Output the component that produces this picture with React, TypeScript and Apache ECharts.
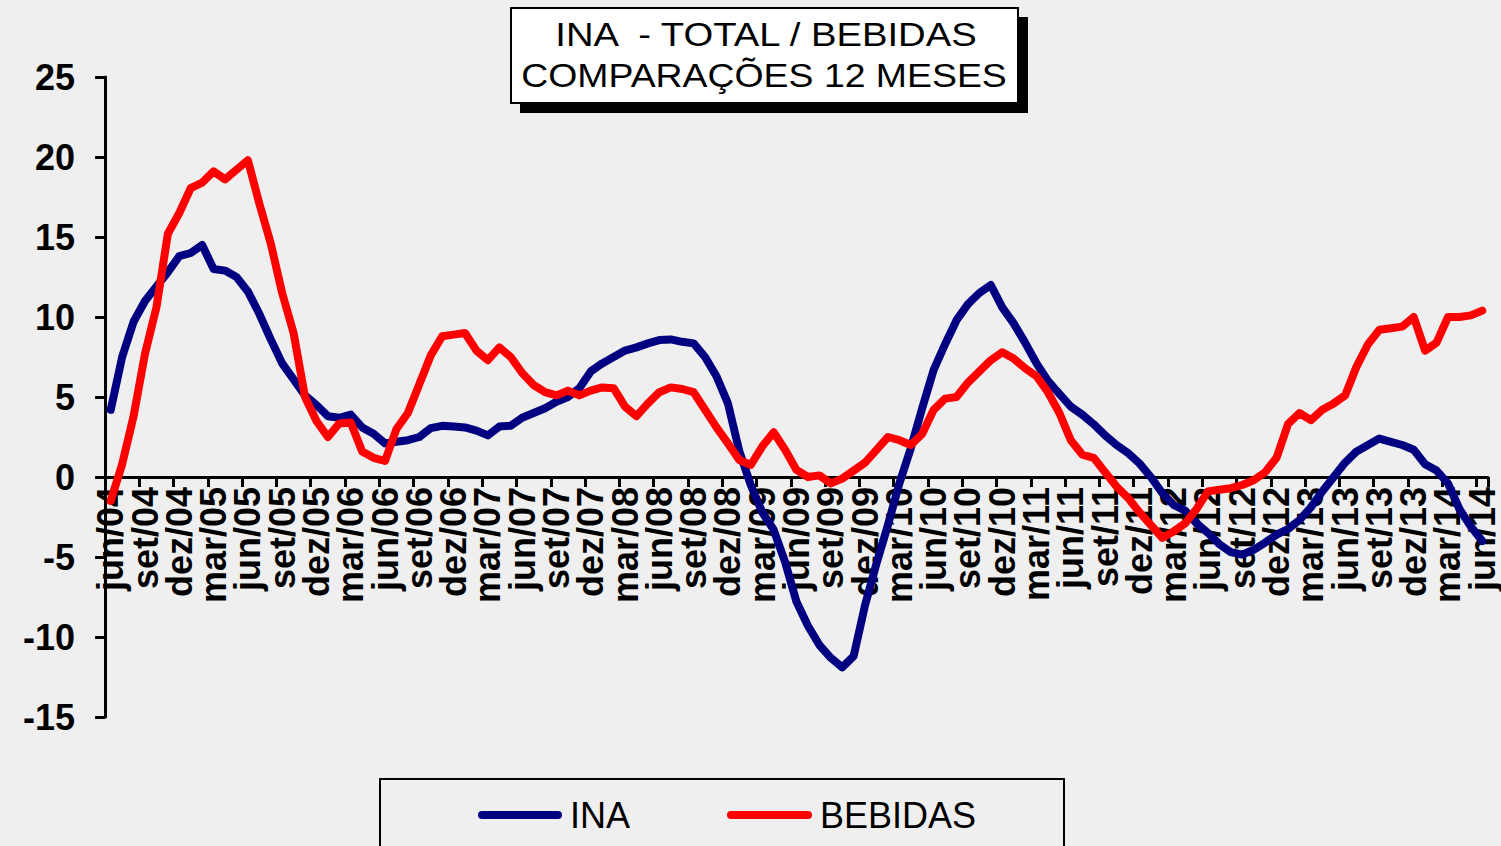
import React, { useEffect, useRef } from 'react';
import * as echarts from 'echarts';

const FONT = "'Liberation Sans', Arial, sans-serif";

const MONTHS = ['jan', 'fev', 'mar', 'abr', 'mai', 'jun', 'jul', 'ago', 'set', 'out', 'nov', 'dez'];
const START_YEAR = 2004;
const START_MONTH = 5; // jun
const MONTH_COUNT = 121; // jun/04 .. jun/14
const LABEL_EVERY = 3;

const CATEGORIES: string[] = [];
for (let k = 0; k < MONTH_COUNT; k++) {
  const m = (START_MONTH + k) % 12;
  const y = START_YEAR + Math.floor((START_MONTH + k) / 12);
  CATEGORIES.push(`${MONTHS[m]}/${String(y % 100).padStart(2, '0')}`);
}

const INA = [
  4.2, 7.5, 9.7, 11.0, 11.9, 12.8, 13.8, 14.0, 14.5, 13.0,
  12.9, 12.5, 11.6, 10.2, 8.6, 7.1, 6.1, 5.1, 4.5, 3.8,
  3.7, 3.9, 3.1, 2.7, 2.1, 2.2, 2.3, 2.5, 3.05, 3.2,
  3.15, 3.1, 2.9, 2.6, 3.15, 3.2, 3.7, 4.0, 4.3, 4.7,
  5.0, 5.55, 6.6, 7.1, 7.5, 7.9, 8.1, 8.35, 8.56, 8.6,
  8.45, 8.35, 7.5, 6.3, 4.6, 1.6, -0.5, -2.2, -3.3, -5.3,
  -7.8, -9.3, -10.5, -11.3, -11.9, -11.2, -8.0, -5.4, -3.0, -0.4,
  1.8, 4.3, 6.7, 8.3, 9.8, 10.8, 11.5, 12.0, 10.6, 9.6,
  8.4, 7.1, 6.0, 5.2, 4.4, 3.9, 3.3, 2.6, 2.0, 1.5,
  0.85, 0.0, -1.0, -1.75, -2.1, -2.9, -3.5, -4.2, -4.7, -4.85,
  -4.55, -4.1, -3.6, -3.25, -2.7, -1.9, -0.9, 0.0, 0.9, 1.6,
  2.0, 2.4, 2.2, 2.0, 1.7, 0.8, 0.4, -0.4, -2.0, -3.1,
  -4.0,
];

const BEBIDAS = [
  -1.5, 0.8, 3.8, 7.7, 10.6, 15.2, 16.5, 18.05, 18.4, 19.1,
  18.6, 19.2, 19.8, 17.1, 14.6, 11.5, 9.0, 5.0, 3.5, 2.5,
  3.35, 3.4, 1.6, 1.2, 1.0, 3.0, 4.0, 5.8, 7.6, 8.8,
  8.9, 9.0, 7.9, 7.3, 8.1, 7.5, 6.5, 5.75, 5.3, 5.1,
  5.4, 5.1, 5.4, 5.6, 5.55, 4.4, 3.8, 4.6, 5.3, 5.6,
  5.5, 5.3, 4.2, 3.1, 2.1, 1.06, 0.75, 1.9, 2.8, 1.7,
  0.44, 0.0, 0.1, -0.4, -0.1, 0.4, 0.9, 1.7, 2.5, 2.3,
  2.0, 2.7, 4.2, 4.9, 5.0, 5.9, 6.6, 7.3, 7.8, 7.4,
  6.8, 6.3, 5.3, 4.0, 2.3, 1.4, 1.2, 0.3, -0.6, -1.3,
  -2.2, -3.0, -3.8, -3.4, -2.9, -2.0, -0.9, -0.8, -0.7, -0.5,
  -0.2, 0.3, 1.2, 3.3, 4.0, 3.55, 4.2, 4.6, 5.1, 6.9,
  8.3, 9.2, 9.3, 9.4, 10.0, 7.9, 8.4, 10.0, 10.0, 10.1,
  10.4,
];

const Y_MIN = -15;
const Y_MAX = 25;
const Y_STEP = 5;

const TITLE_LINES = ['INA  - TOTAL / BEBIDAS', 'COMPARAÇÕES 12 MESES'];
const SERIES_NAMES = ['INA', 'BEBIDAS'];
const COLORS = ['#000080', '#ff0000'];

const GRID_TOP = 77;
const GRID_BOTTOM_PX = 717;

export default function App() {
  const ref = useRef<HTMLDivElement>(null);

  useEffect(() => {
    const chart = echarts.init(ref.current!, null, { renderer: 'svg' });
    // the x axis sits on the zero line: shift it up from the grid bottom by the pixel height of the negative range
    const zeroOffset = ((0 - Y_MIN) / (Y_MAX - Y_MIN)) * (GRID_BOTTOM_PX - GRID_TOP);
    chart.setOption({
      animation: false,
      backgroundColor: '#efefef',
      textStyle: { fontFamily: FONT },
      grid: { left: 105, right: 13, top: GRID_TOP, bottom: 846 - GRID_BOTTOM_PX, containLabel: false },
      xAxis: {
        type: 'category',
        data: CATEGORIES,
        boundaryGap: true,
        position: 'bottom',
        offset: -zeroOffset,
        axisLine: { onZero: false, lineStyle: { color: '#000', width: 3 } },
        axisTick: { show: true, interval: LABEL_EVERY - 1, length: 10, lineStyle: { color: '#000', width: 3 } },
        axisLabel: {
          interval: 0,
          formatter: (value: string, index: number) => (index % LABEL_EVERY === 0 ? value : ''),
          rotate: 90,
          margin: 10,
          hideOverlap: false,
          padding: [0, 0, 4, 0],
          color: '#000',
          fontSize: 36,
          lineHeight: 26,
          fontWeight: 'bold',
          fontFamily: FONT,
        },
        splitLine: { show: false },
      },
      yAxis: {
        type: 'value',
        min: Y_MIN,
        max: Y_MAX,
        interval: Y_STEP,
        axisLine: { show: true, lineStyle: { color: '#000', width: 3 } },
        axisTick: { show: true, length: 10, lineStyle: { color: '#000', width: 3 } },
        axisLabel: { margin: 30, color: '#000', fontSize: 36, fontWeight: 'bold', fontFamily: FONT },
        splitLine: { show: false },
      },
      series: [
        {
          name: SERIES_NAMES[0],
          type: 'line',
          data: INA,
          symbol: 'none',
          lineStyle: { color: COLORS[0], width: 8, cap: 'round', join: 'round' },
          itemStyle: { color: COLORS[0] },
        },
        {
          name: SERIES_NAMES[1],
          type: 'line',
          data: BEBIDAS,
          symbol: 'none',
          lineStyle: { color: COLORS[1], width: 8, cap: 'round', join: 'round' },
          itemStyle: { color: COLORS[1] },
        },
      ],
      graphic: [
        // title box shadow
        { type: 'rect', shape: { x: 520, y: 17, width: 508, height: 96 }, style: { fill: '#000' }, z: 10 },
        { type: 'rect', shape: { x: 511, y: 8, width: 507, height: 95 }, style: { fill: '#fff', stroke: '#000', lineWidth: 2 }, z: 11 },
        {
          type: 'text', x: 766, y: 34, scaleX: 1.125, z: 12,
          style: { text: TITLE_LINES[0], fill: '#000', font: `34px ${FONT}`, textAlign: 'center', textVerticalAlign: 'middle' },
        },
        {
          type: 'text', x: 764, y: 76, scaleX: 1.1, z: 12,
          style: { text: TITLE_LINES[1], fill: '#000', font: `34px ${FONT}`, textAlign: 'center', textVerticalAlign: 'middle' },
        },
        // legend box
        { type: 'rect', shape: { x: 380, y: 779, width: 684, height: 100 }, style: { fill: 'none', stroke: '#000', lineWidth: 2 }, z: 10 },
        { type: 'line', shape: { x1: 482, y1: 815, x2: 558, y2: 815 }, style: { stroke: COLORS[0], lineWidth: 8, lineCap: 'round' }, z: 11 },
        {
          type: 'text', x: 570, y: 815, z: 11,
          style: { text: SERIES_NAMES[0], fill: '#000', font: `36px ${FONT}`, textAlign: 'left', textVerticalAlign: 'middle' },
        },
        { type: 'line', shape: { x1: 731, y1: 815, x2: 808, y2: 815 }, style: { stroke: COLORS[1], lineWidth: 8, lineCap: 'round' }, z: 11 },
        {
          type: 'text', x: 820, y: 815, z: 11,
          style: { text: SERIES_NAMES[1], fill: '#000', font: `36px ${FONT}`, textAlign: 'left', textVerticalAlign: 'middle' },
        },
      ],
    });
    return () => chart.dispose();
  }, []);

  return <div ref={ref} style={{ position: 'absolute', left: 0, top: 0, width: 1501, height: 846 }} />;
}
